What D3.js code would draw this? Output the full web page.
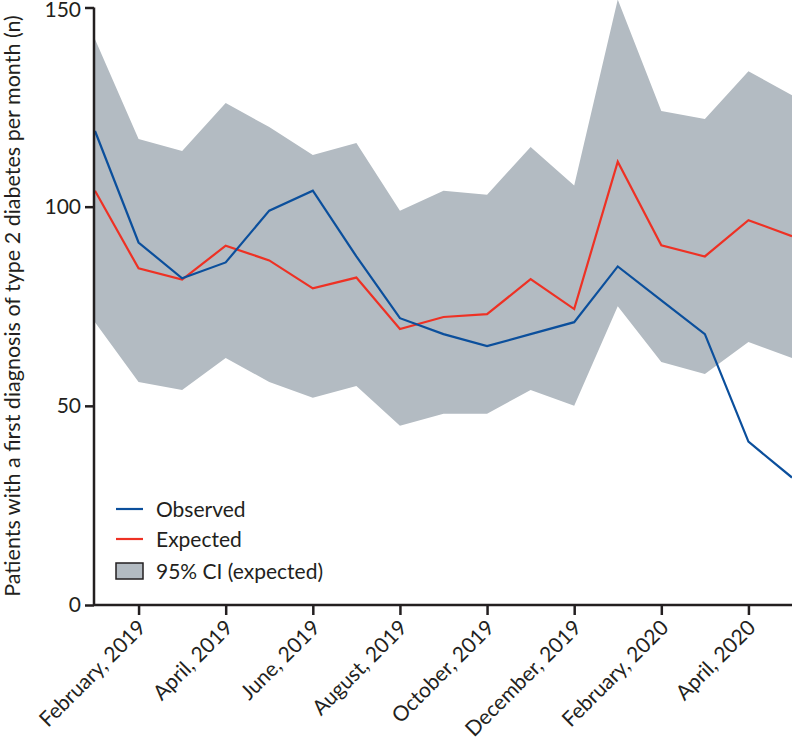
<!DOCTYPE html>
<html><head><meta charset="utf-8">
<script src="https://cdn.jsdelivr.net/npm/d3@7"></script>
<style>body{margin:0;background:#fff}svg{display:block}text{font-family:Lato,"Noto Sans",sans-serif;fill:#231f20}</style>
</head><body><svg id="c" width="792" height="742"></svg>
<script>
const months = ["January, 2019","February, 2019","March, 2019","April, 2019","May, 2019","June, 2019","July, 2019","August, 2019","September, 2019","October, 2019","November, 2019","December, 2019","January, 2020","February, 2020","March, 2020","April, 2020","May, 2020"];
const observed = [119, 91, 82, 86, 99, 104, 87.5, 72, 68, 65, 68, 71, 85, 76.5, 68, 41, 32];
const expected = [104, 84.5, 81.7, 90.2, 86.5, 79.5, 82.2, 69.3, 72.3, 73, 81.8, 74.3, 111.3, 90.3, 87.5, 96.6, 92.6];
const ciUpper = [142, 117, 114, 126, 120, 113, 116, 99, 104, 103, 115, 105.3, 152, 124, 122, 134, 128];
const ciLower = [71, 56, 54, 62, 56, 52, 55, 45, 48, 48, 54, 50, 75, 61, 58, 66, 62];
const tickMonths = ["February, 2019","April, 2019","June, 2019","August, 2019","October, 2019","December, 2019","February, 2020","April, 2020"];
const yTicks = [0, 50, 100, 150];
const legendLabels = ["Observed","Expected","95% CI (expected)"];

const C = {obs:"#0b4f9c", exp:"#ee3124", ci:"#b3bbc2", axis:"#231f20"};
const FS = 21;
const svg = d3.select("#c");
const x = d3.scalePoint().domain(months).range([95, 792]);
const y = d3.scaleLinear().domain([0,150]).range([605, 7.5]);

const data = months.map((m,i)=>({m, o:observed[i], e:expected[i], u:ciUpper[i], l:ciLower[i]}));

svg.append("path").datum(data)
  .attr("d", d3.area().x(d=>x(d.m)).y0(d=>y(d.l)).y1(d=>y(d.u)))
  .attr("fill", C.ci);
svg.append("path").datum(data)
  .attr("d", d3.line().x(d=>x(d.m)).y(d=>y(d.e)))
  .attr("fill","none").attr("stroke",C.exp).attr("stroke-width",2.2);
svg.append("path").datum(data)
  .attr("d", d3.line().x(d=>x(d.m)).y(d=>y(d.o)))
  .attr("fill","none").attr("stroke",C.obs).attr("stroke-width",2.2);

// axes
const yAx = svg.append("g").attr("transform","translate(94,0)")
  .call(d3.axisLeft(y).tickValues(yTicks).tickSize(9).tickPadding(4));
const xAx = svg.append("g").attr("transform","translate(0,605)")
  .call(d3.axisBottom(x).tickValues(tickMonths).tickSize(10));
[yAx,xAx].forEach(g=>{
  g.select(".domain").attr("stroke",C.axis).attr("stroke-width",2.5);
  g.selectAll(".tick line").attr("stroke",C.axis).attr("stroke-width",2.5);
});
xAx.select(".domain").attr("d","M94,0H792");
yAx.select(".domain").attr("d","M0,7.5V605");
yAx.selectAll(".tick text").attr("font-size",FS).attr("font-family","Lato, sans-serif").attr("fill",C.axis)
  .attr("dy", d => d === 150 ? "0.42em" : "0.32em");
xAx.selectAll(".tick text").attr("font-size",FS).attr("font-family","Lato, sans-serif").attr("fill",C.axis)
  .attr("text-anchor","end").attr("dy",null).attr("y",0).attr("x",0)
  .attr("transform","translate(8,24) rotate(-45)");

svg.append("text").attr("transform","translate(20,306) rotate(-90)")
  .attr("text-anchor","middle").attr("font-size",21.5)
  .text("Patients with a first diagnosis of type 2 diabetes per month (n)");

// legend
const lg = svg.append("g");
const ly = [509, 539, 571];
lg.append("line").attr("x1",116).attr("x2",143).attr("y1",ly[0]).attr("y2",ly[0]).attr("stroke",C.obs).attr("stroke-width",2.2);
lg.append("line").attr("x1",116).attr("x2",143).attr("y1",ly[1]).attr("y2",ly[1]).attr("stroke",C.exp).attr("stroke-width",2.2);
lg.append("rect").attr("x",116).attr("y",563).attr("width",27).attr("height",16).attr("fill",C.ci).attr("stroke",C.axis).attr("stroke-width",1.5);
legendLabels.forEach((t,i)=>{
  lg.append("text").attr("x",156).attr("y",ly[i]+8).attr("font-size",FS).text(t);
});
</script></body></html>
